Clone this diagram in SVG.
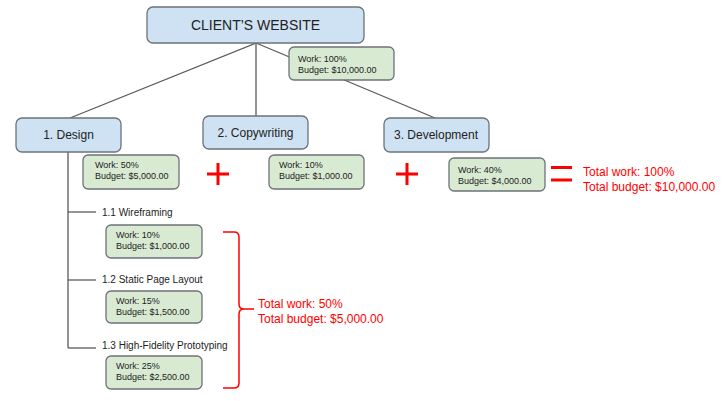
<svg xmlns="http://www.w3.org/2000/svg" width="727" height="401" viewBox="0 0 727 401">
<style>
  .blue{fill:#cfe2f3;stroke:#6d7278;stroke-width:1.3}
  .green{fill:#d9ead3;stroke:#6d7278;stroke-width:1.3}
  .conn{stroke:#5a5a5a;stroke-width:1.3;fill:none}
  .t{font-family:"Liberation Sans",Arial,sans-serif;fill:#222}
  .big{font-size:14px}
  .mid{font-size:12px}
  .sm{font-size:9px}
  .lbl{font-size:10px}
  .red{font-family:"Liberation Sans",Arial,sans-serif;font-size:12px;fill:#ff0000}
  .rs{stroke:#ff0000;fill:none}
</style>
<rect width="727" height="401" fill="#ffffff"/>
<g id="connectors">
  <line class="conn" x1="256" y1="43" x2="70" y2="118"/>
  <line class="conn" x1="256" y1="43" x2="256" y2="116"/>
  <line class="conn" x1="256" y1="43" x2="435" y2="118"/>
  <polyline class="conn" points="68,152 68,348"/>
  <line class="conn" x1="68" y1="212" x2="96" y2="212"/>
  <line class="conn" x1="68" y1="280" x2="96" y2="280"/>
  <line class="conn" x1="68" y1="348" x2="96" y2="348"/>
</g>
<g id="root">
  <rect class="blue" x="147" y="7" width="217" height="36" rx="6"/>
  <text class="t big" x="255.5" y="30" text-anchor="middle">CLIENT’S WEBSITE</text>
</g>
<g id="root-budget">
  <rect class="green" x="289" y="47" width="105" height="33" rx="5"/>
  <text class="t sm" x="298" y="62">Work: 100%</text>
  <text class="t sm" x="298" y="73">Budget: $10,000.00</text>
</g>
<g id="design">
  <rect class="blue" x="16" y="118" width="105" height="34" rx="6"/>
  <text class="t mid" x="68.5" y="139" text-anchor="middle">1. Design</text>
</g>
<g id="design-budget">
  <rect class="green" x="83" y="155" width="96" height="34" rx="5"/>
  <text class="t sm" x="95" y="168">Work: 50%</text>
  <text class="t sm" x="95" y="179">Budget: $5,000.00</text>
</g>
<g id="copywriting">
  <rect class="blue" x="203" y="116" width="105" height="33" rx="6"/>
  <text class="t mid" x="255.5" y="137" text-anchor="middle">2. Copywriting</text>
</g>
<g id="copywriting-budget">
  <rect class="green" x="269" y="155" width="95" height="34" rx="5"/>
  <text class="t sm" x="279" y="168">Work: 10%</text>
  <text class="t sm" x="279" y="179">Budget: $1,000.00</text>
</g>
<g id="development">
  <rect class="blue" x="384" y="118" width="105" height="34" rx="6"/>
  <text class="t mid" x="436" y="139" text-anchor="middle">3. Development</text>
</g>
<g id="development-budget">
  <rect class="green" x="449" y="158" width="96" height="33" rx="5"/>
  <text class="t sm" x="458" y="173">Work: 40%</text>
  <text class="t sm" x="458" y="184">Budget: $4,000.00</text>
</g>
<g id="sum-operators">
  <path class="rs" stroke-width="3" d="M207,174 H229 M218,163 V185"/>
  <path class="rs" stroke-width="3" d="M396,174 H418 M407,163 V185"/>
  <path class="rs" stroke-width="3" d="M551,167.5 H572 M551,180 H572"/>
</g>
<g id="total">
  <text class="red" x="583" y="176">Total work: 100%</text>
  <text class="red" x="583" y="191">Total budget: $10,000.00</text>
</g>
<g id="wireframing">
  <text class="t lbl" x="102" y="216">1.1 Wireframing</text>
  <rect class="green" x="106" y="225" width="96" height="33" rx="5"/>
  <text class="t sm" x="116" y="238">Work: 10%</text>
  <text class="t sm" x="116" y="249">Budget: $1,000.00</text>
</g>
<g id="static-layout">
  <text class="t lbl" x="102" y="283">1.2 Static Page Layout</text>
  <rect class="green" x="106" y="291" width="96" height="32" rx="5"/>
  <text class="t sm" x="116" y="304">Work: 15%</text>
  <text class="t sm" x="116" y="315">Budget: $1,500.00</text>
</g>
<g id="prototyping">
  <text class="t lbl" x="102" y="349">1.3 High-Fidelity Prototyping</text>
  <rect class="green" x="106" y="356" width="96" height="33" rx="5"/>
  <text class="t sm" x="116" y="369">Work: 25%</text>
  <text class="t sm" x="116" y="380">Budget: $2,500.00</text>
</g>
<g id="design-total">
  <path class="rs" stroke-width="1.5" d="M223,232 H234 Q239,232 239,237 V304 Q239,309 244,309 H254 M244,309 Q239,309 239,314 V383 Q239,388 234,388 H223"/>
  <text class="red" x="258" y="308">Total work: 50%</text>
  <text class="red" x="258" y="323">Total budget: $5,000.00</text>
</g>
</svg>
